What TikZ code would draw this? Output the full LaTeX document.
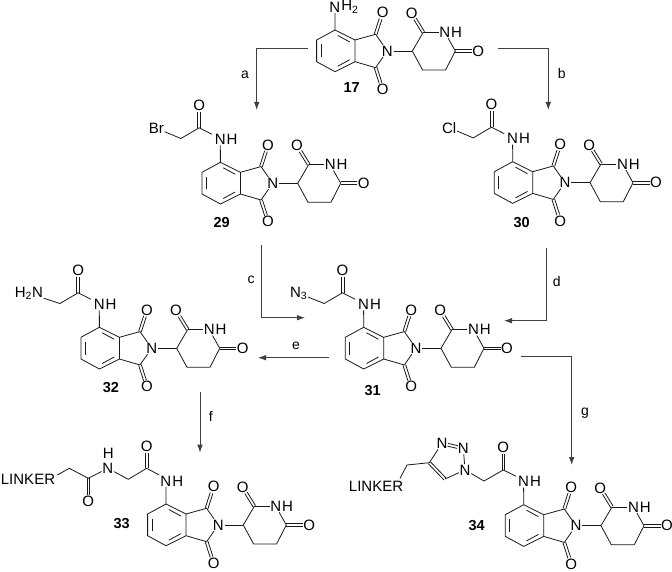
\documentclass[tikz,border=0pt]{standalone}
\usepackage{fontspec}
\setmainfont{Liberation Sans}
\usetikzlibrary{arrows.meta,calc}
\newcommand{\dblb}[3][]{% doppio legame
  \draw [bond,#1] ($(#2)!1.4pt!90:(#3)$) -- ($(#3)!1.4pt!-90:(#2)$);
  \draw [bond,#1] ($(#2)!1.4pt!-90:(#3)$) -- ($(#3)!1.4pt!90:(#2)$);}
\tikzset{
  atom/.style={inner sep=.6pt},
  bond/.style={line width=.8pt,black!90},
  cdo/.style={shorten >=6.5pt},
  rxn/.style={line width=.8pt,black!75,-{Latex[length=8pt,width=5.5pt]}},
  stepname/.style={font=\fontsize{14}{14}\selectfont,inner sep=0pt},
  cpd/.style={font=\fontsize{14.5}{15}\selectfont\bfseries,inner sep=0pt},
  pics/core/.style={code={
    % isoindolinedione + glutarimide, origin on the imide N
    \node [atom](n) at (0,0) {N};
    \node [atom](o1) at (-4.7,-38.3) {O};
    \node [atom](o3) at (-4.7,38.3) {O};
    \node [atom](o2) at (24.3,-37.7) {O};
    \node [atom](o6) at (91,0) {O};
    \node [atom](nh) at (57.5,-18.7) {N};
    \node [atom,anchor=west,inner sep=0pt](nhh) at (nh.east) {H};
    \node [atom](na) at (-52.4,-44) {N};
    \node [atom,anchor=west,inner sep=0pt](nah) at (na.east) {#1};
    \coordinate (c4) at (-52.3,-21);
    \coordinate (c5) at (-70.7,-11);
    \coordinate (c6) at (-70.7,10.7);
    \coordinate (c7) at (-52.3,20.7);
    \coordinate (c7a) at (-32.3,10.7);
    \coordinate (c3a) at (-32.3,-11);
    \coordinate (c1) at (-11.7,-16.7);
    \coordinate (c3) at (-11.7,16.7);
    \coordinate (ch) at (25,0);
    \coordinate (c2p) at (36,-18.7);
    \coordinate (c6p) at (68,0);
    \coordinate (c5p) at (58.3,19);
    \coordinate (c4p) at (35.3,19);
    \dblb[cdo]{c1}{o1}
    \dblb[cdo]{c3}{o3}
    \dblb[cdo]{c2p}{o2}
    \dblb[cdo]{c6p}{o6}
    \draw [bond,line join=round] (c4) -- (c5) -- (c6) -- (c7) -- (c7a) -- (c3a) -- cycle;
    \draw [bond] (-66.3,-6.5) -- (-66.3,6.2); % doppi legami interni
    \draw [bond] (-49.5,-15.5) -- (-37.5,-9);
    \draw [bond] (-49.5,15.2) -- (-37.5,8.7);
    \draw [bond] (c3a) -- (c1) -- (n);
    \draw [bond] (c7a) -- (c3) -- (n);
    \draw [bond] (n) -- (ch);
    \draw [bond,line join=round] (ch) -- (c2p);
    \draw [bond] (c2p) -- (nh);
    \draw [bond] (nh) -- (c6p);
    \draw [bond,line join=round] (c6p) -- (c5p) -- (c4p) -- (ch);
    \draw [bond] (c4) -- (na);
  }},
  pics/acyl/.style={code={
    % NH-CO-CH2-X, same origin as core
    \coordinate (co) at (-73.5,-55.5);
    \coordinate (ca) at (-91.8,-44.8);
    \node [atom](oa) at (-73.5,-78) {O};
    \node [atom,anchor=east](x) at (-108,-55) {#1};
    \node [shape=coordinate](nb) at (-60.8,-49) {};
    \dblb[cdo]{co}{oa}
    \draw [bond] (nb) -- (co) -- (ca) -- (x);
  }}
}
\begin{document}
\begin{tikzpicture}[x=1pt,y=-1pt,font=\fontsize{15}{15}\selectfont]
  \useasboundingbox (0,0) rectangle (672,572);
  \pic (mA) at (387.3,51) {core=H\textsubscript{2}};
  \pic (mB) at (272.7,183.3) {core=H};
  \pic (mBa) at (272.7,183.3) {acyl=Br};
  \pic (mC) at (565,182.7) {core=H};
  \pic (mCa) at (565,182.7) {acyl=Cl};
  \pic (mD) at (416,348.3) {core=H};
  \pic (mDa) at (416,348.3) {acyl=N\textsubscript{3}};
  \pic (mE) at (151.7,348.3) {core=H};
  \pic (mEa) at (151.7,348.3) {acyl=H\textsubscript{2}N};
  \pic (mF) at (218.3,525) {core=H};
  \pic (mG) at (576,525.7) {core=H};
  % catena di 33
  \begin{scope}[shift={(218.3,525)}]
    \coordinate (fco) at (-71.7,-56.7);
    \coordinate (fca) at (-90,-45.7);
    \node [atom](fo) at (-71.7,-79) {O};
    \node [atom](fn) at (-110.5,-56.7) {N};
    \node [atom,inner sep=0pt](fh) at (-110,-71.5) {H};
    \coordinate (fcb) at (-130,-46.7);
    \node [atom](fob) at (-130,-24) {O};
    \coordinate (fcc) at (-149,-56.7);
    \node [shape=coordinate](fr) at (-161,-50) {};
    \dblb[cdo]{fco}{fo}
    \dblb[cdo]{fcb}{fob}
    \draw [bond] (-59,-50) -- (fco) -- (fca) -- (fn);
    \draw [bond] (fn) -- (fcb) -- (fcc) -- (fr);
  \end{scope}
  \node [inner sep=0pt](linkF) at (28,479.3) {LINKER};
  % catena di 34
  \begin{scope}[shift={(576,525.7)}]
    \coordinate (gco) at (-72.7,-55.7);
    \coordinate (gca) at (-92,-44.7);
    \node [atom](go) at (-72.7,-78) {O};
    \node [atom](gna) at (-111,-55.7) {N};
    \node [atom](gnb) at (-112.7,-77.3) {N};
    \node [atom](gnc) at (-134,-82.3) {N};
    \coordinate (gcd) at (-146.7,-63);
    \coordinate (gce) at (-131,-46.7);
    \coordinate (gcf) at (-169,-60.7);
    \node [shape=coordinate](gr) at (-176,-47.3) {};
    \dblb[cdo]{gco}{go}
    \dblb[shorten >=6pt,shorten <=6pt]{gnb}{gnc}
    \dblb{gcd}{gce}
    \draw [bond] (-60,-49.5) -- (gco) -- (gca) -- (gna);
    \draw [bond] (gna) -- (gnb);
    \draw [bond] (gnc) -- (gcd) -- (gcf) -- (gr);
    \draw [bond] (gce) -- (gna);
  \end{scope}
  \node [inner sep=0pt](linkG) at (376,486) {LINKER};
  % numeri dei composti
  \node [cpd](n17) at (351.7,88) {17};
  \node [cpd](n29) at (221.7,223) {29};
  \node [cpd](n30) at (521.7,222.7) {30};
  \node [cpd](n31) at (372.7,391) {31};
  \node [cpd](n32) at (111,388) {32};
  \node [cpd](n33) at (121.7,524) {33};
  \node [cpd](n34) at (476.7,526) {34};
  % frecce di reazione
  \coordinate (aS) at (307.7,48.3); \coordinate (aE) at (256.7,110);
  \coordinate (bS) at (497.7,48.3); \coordinate (bE) at (548.3,110);
  \coordinate (cS) at (261,245);    \coordinate (cE) at (305,317.7);
  \coordinate (dS) at (546.7,248);  \coordinate (dE) at (504,320.7);
  \coordinate (eS) at (329,357.7);  \coordinate (eE) at (258,357.7);
  \coordinate (fS) at (200,392);    \coordinate (fE) at (200,452.7);
  \coordinate (gS) at (520.7,356);  \coordinate (gE) at (571.7,465);
  \draw [rxn] (aS) -| (aE);
  \draw [rxn] (bS) -| (bE);
  \draw [rxn] (cS) |- (cE);
  \draw [rxn] (dS) |- (dE);
  \draw [rxn] (eS) -- (eE);
  \draw [rxn] (fS) -- (fE);
  \draw [rxn] (gS) -| (gE);
  \node [stepname](la) at (245,75) {a};
  \node [stepname](lb) at (561.7,73) {b};
  \node [stepname](lc) at (251,280) {c};
  \node [stepname](ld) at (556.7,281.7) {d};
  \node [stepname](le) at (296,345.7) {e};
  \node [stepname](lf) at (210.7,416) {f};
  \node [stepname](lg) at (585,412.7) {g};
\end{tikzpicture}
\end{document}
